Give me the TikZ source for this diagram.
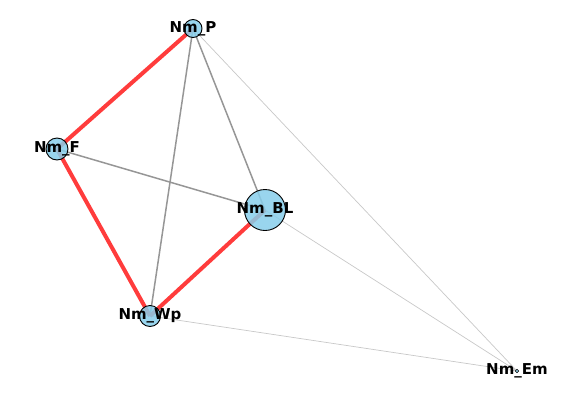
\documentclass[tikz,border=0pt]{standalone}
\usepackage{fontspec}
\setmainfont{DejaVu Sans}
\begin{document}
\begin{tikzpicture}[x=1pt,y=-1pt,
  nd/.style={circle,draw=black,line width=0.9pt,fill={rgb,255:red,135;green,206;blue,235},fill opacity=0.85,inner sep=0pt},
  lbl/.style={font=\fontsize{15}{15}\selectfont\bfseries,text=black,inner sep=0pt},
  hot/.style={draw={rgb,255:red,255;green,60;blue,60},line width=4pt},
  mid/.style={draw={rgb,255:red,150;green,150;blue,150},line width=1.5pt},
  faint/.style={draw={rgb,255:red,200;green,200;blue,200},line width=0.7pt}]
\useasboundingbox (0,0) rectangle (574,416);
\coordinate (P) at (193,28.5);
\coordinate (F) at (57,149);
\coordinate (BL) at (265,210);
\coordinate (Wp) at (150,316);
\coordinate (Em) at (517,371);
\draw[faint] (P) -- (Em);
\draw[faint] (BL) -- (Em);
\draw[faint] (Wp) -- (Em);
\draw[mid] (P) -- (BL);
\draw[mid] (P) -- (Wp);
\draw[mid] (F) -- (BL);
\draw[hot] (P) -- (F);
\draw[hot] (F) -- (Wp);
\draw[hot] (Wp) -- (BL);
\node[nd,minimum size=18pt] (nP) at (P) {};
\node[nd,minimum size=22pt] (nF) at (F) {};
\node[nd,minimum size=41pt] (nBL) at (BL) {};
\node[nd,minimum size=21pt] (nWp) at (Wp) {};
\node[nd,minimum size=3.5pt,line width=0.6pt] (nEm) at (Em) {};
\node[lbl] (tP) at (P) {Nm\_P};
\node[lbl] (tF) at (F) {Nm\_F};
\node[lbl] (tBL) at (BL) {Nm\_BL};
\node[lbl] (tWp) at (Wp) {Nm\_Wp};
\node[lbl] (tEm) at (Em) {Nm\_Em};
\end{tikzpicture}
\end{document}
